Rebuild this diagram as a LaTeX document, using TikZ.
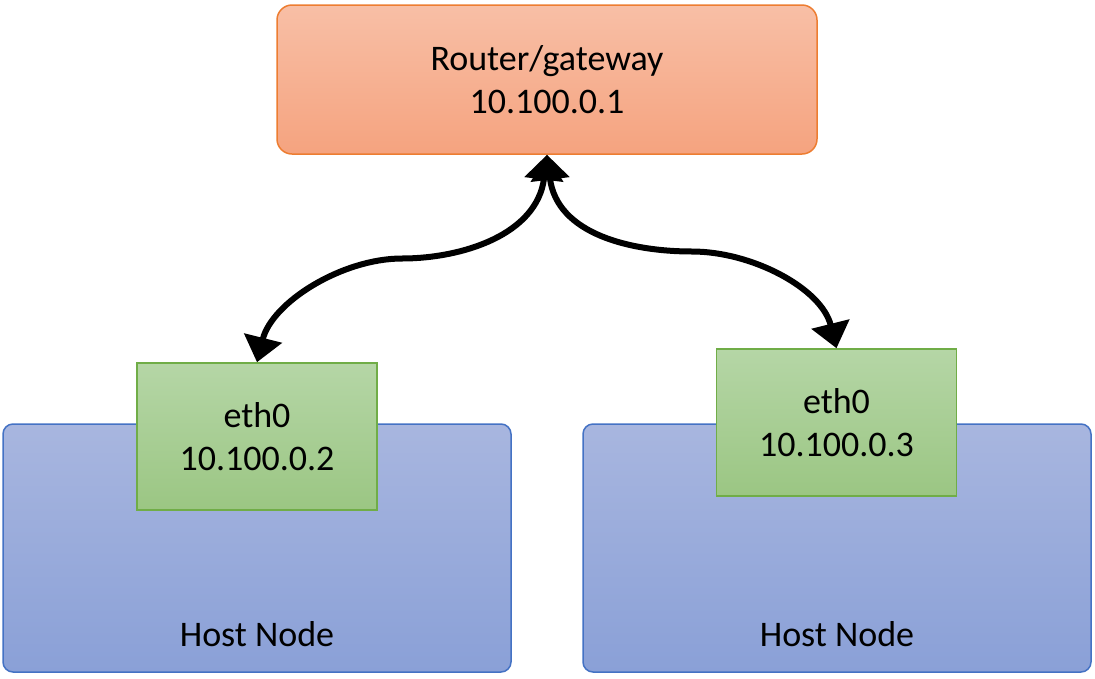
\documentclass[tikz,border=0pt]{standalone}
\usepackage{fontspec}
\setmainfont{Carlito}
\usepackage{tikz}
\usetikzlibrary{arrows.meta}
\definecolor{routerline}{HTML}{ED7D31}
\definecolor{routertop}{HTML}{F8BFA6}
\definecolor{routerbot}{HTML}{F5A37F}
\definecolor{ethline}{HTML}{70AD47}
\definecolor{ethtop}{HTML}{B5D6A6}
\definecolor{ethbot}{HTML}{9BC683}
\definecolor{hostline}{HTML}{4472C4}
\definecolor{hosttop}{HTML}{A8B6DF}
\definecolor{hostbot}{HTML}{8AA0D7}
\newcommand{\bigtext}{\fontsize{36}{43}\selectfont}

\begin{document}
\begin{tikzpicture}[x=1pt,y=-1pt,
        routerbox/.style={draw=routerline,line width=1.5pt,rounded corners=15pt,
            top color=routertop,bottom color=routerbot,
            minimum width=540pt,minimum height=149pt,inner sep=0pt,
            align=center,font=\bigtext},
        ethbox/.style={draw=ethline,line width=1.5pt,
            top color=ethtop,bottom color=ethbot,
            minimum width=240pt,minimum height=147pt,inner sep=0pt,
            align=center,font=\bigtext},
        hostbox/.style={draw=hostline,line width=1.5pt,rounded corners=10pt,
            top color=hosttop,bottom color=hostbot,
            minimum width=508pt,minimum height=248pt,inner sep=0pt},
        hosttext/.style={font=\bigtext,inner sep=0pt},
        link/.style={line width=6pt,
            {Triangle[length=25pt,width=38pt]}-{Triangle[length=25pt,width=38pt]}}
    ]
    \useasboundingbox (0,0) rectangle (1095,678);

    % hosts
    \node[hostbox] (hostL) at (257,548) {};
    \node[hostbox] (hostR) at (837,548) {};
    \node[hosttext] (hostLtxt) at ([yshift=39pt]hostL.south) {Host Node};
    \node[hosttext] (hostRtxt) at ([yshift=39pt]hostR.south) {Host Node};

    % interfaces
    \node[ethbox] (ethL) at (257,436.5) {eth0\\10.100.0.2};
    \node[ethbox] (ethR) at (836.5,422.5) {eth0\\10.100.0.3};

    % router
    \node[routerbox] (router) at (547,79.5) {Router/gateway\\10.100.0.1};

    \coordinate (midL) at (402,258.5);
    \coordinate (midR) at (692,251.5);

    \draw[link] (router.south) .. controls +(-10,80) and +(60,0) .. (midL)
        .. controls +(-60,0) and +(15,-60) .. (ethL.north);
    \draw[link] (router.south) .. controls +(10,80) and +(-60,0) .. (midR)
        .. controls +(60,0) and +(-15,-60) .. (ethR.north);
\end{tikzpicture}
\end{document}
